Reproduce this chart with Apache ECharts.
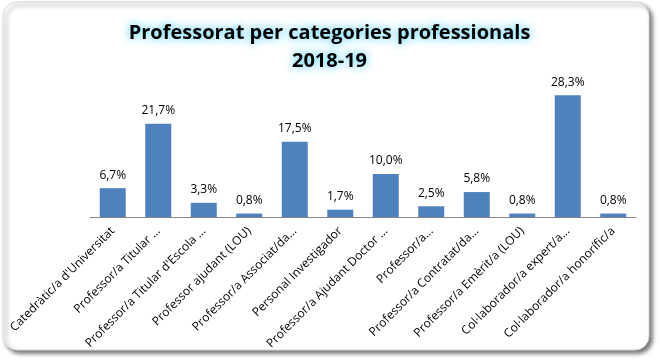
<!DOCTYPE html>
<html><head><meta charset="utf-8">
<script src="https://cdn.jsdelivr.net/npm/echarts@6/dist/echarts.min.js"></script>
<style>html,body{margin:0;padding:0;background:#fff}#c{width:659px;height:360px}</style>
</head><body><div id="c"></div>
<script>
const categories = [
  "Catedràtic/a d'Universitat",
  "Professor/a Titular ...",
  "Professor/a Titular d'Escola ...",
  "Professor ajudant (LOU)",
  "Professor/a Associat/da...",
  "Personal Investigador",
  "Professor/a Ajudant Doctor ...",
  "Professor/a...",
  "Professor/a Contratat/da...",
  "Professor/a Emèrit/a (LOU)",
  "Col·laborador/a expert/a...",
  "Col·laborador/a honorífic/a"
];
const values = [6.7, 21.7, 3.3, 0.8, 17.5, 1.7, 10.0, 2.5, 5.8, 0.8, 28.3, 0.8];
const titleLines = ["Professorat per categories professionals", "2018-19"];

const chart = echarts.init(document.getElementById('c'), null, {renderer: 'canvas'});
const font = "'Open Sans', 'DejaVu Sans', sans-serif";
chart.setOption({
  animation: false,
  backgroundColor: '#fff',
  graphic: [{
    type: 'rect', z: -10, silent: true,
    shape: {x: 3, y: 2, width: 646, height: 348, r: 14},
    style: {fill: '#fff', stroke: '#d9d9d9', lineWidth: 1,
      shadowColor: 'rgba(0,0,0,0.55)', shadowBlur: 4, shadowOffsetX: 3, shadowOffsetY: 3}
  }],
  title: {
    text: titleLines.join('\n'),
    left: 'center', top: 14,
    textStyle: {
      fontFamily: font, fontSize: 20, fontWeight: 'bold', color: '#000', lineHeight: 28,
      textShadowColor: 'rgba(40,200,250,1)', textShadowBlur: 10
    }
  },
  grid: {left: 90, right: 23, top: 88, bottom: 143, containLabel: false},
  xAxis: {
    type: 'category', data: categories,
    axisLine: {lineStyle: {color: '#868686', width: 1}},
    axisTick: {show: false},
    axisLabel: {rotate: 45, interval: 0, margin: 12, color: '#000', fontFamily: font, fontSize: 12}
  },
  yAxis: {type: 'value', min: 0, max: 30, show: false, splitLine: {show: false}},
  series: [{
    type: 'bar', data: values, barWidth: 26,
    itemStyle: {color: '#4f81bd'},
    label: {show: true, position: 'top', distance: 7, color: '#000', fontFamily: font, fontSize: 12,
      formatter: p => p.value.toFixed(1).replace('.', ',') + '%'}
  }]
});
</script></body></html>
